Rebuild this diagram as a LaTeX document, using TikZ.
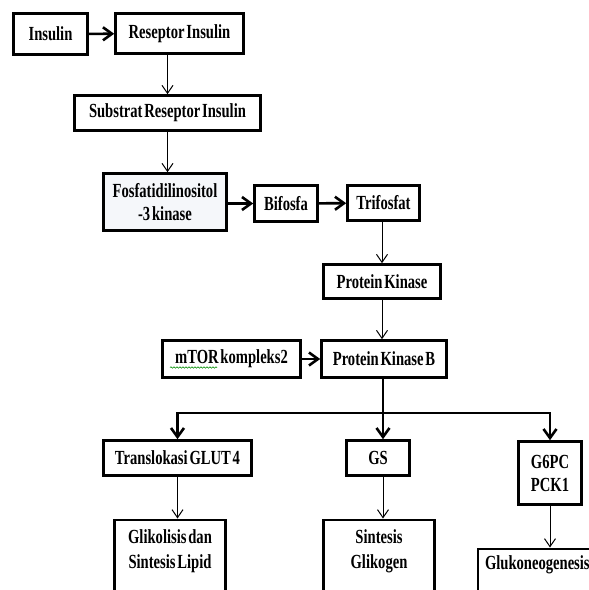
\documentclass[tikz,border=0pt]{standalone}
\usepackage{fontspec}
\setmainfont{Liberation Serif}[FakeStretch=0.73,WordSpace=0.5]
\usepackage{tikz}
\usetikzlibrary{arrows.meta,positioning,decorations.pathmorphing}
\tikzset{>={Straight Barb[length=8pt,width=11pt]}}
\definecolor{fosbg}{HTML}{F5F7FA}
\tikzset{
  box/.style={draw,line width=2.6pt,inner sep=0pt,align=center,font=\bfseries\fontsize{20}{23}\selectfont},
  txt/.style={inner sep=0pt,outer sep=0pt,align=center,font=\bfseries\fontsize{20}{25}\selectfont},
  flow/.style={->,line width=1pt},
  push/.style={line width=2.6pt,>={Straight Barb[length=9pt,width=13pt]}}
}

\begin{document}
\begin{tikzpicture}[x=1pt,y=-1pt]
\useasboundingbox (0,0) rectangle (589,590);
\clip (0,0) rectangle (589,590);
\node[box,minimum width=74pt,minimum height=41pt] (ins) at (50.5,34) {Insulin};
\node[box,minimum width=128pt,minimum height=40pt] (rsp) at (179.5,33.5) {Reseptor Insulin};
\node[box,minimum width=186pt,minimum height=35pt] (sub) at (167.5,113) {Substrat Reseptor Insulin};
\node[box,fill=fosbg,minimum width=123pt,minimum height=57pt] (fos) at (165,202) {Fosfatidilinositol\\-3 kinase};
\node[box,minimum width=63pt,minimum height=36pt] (bif) at (286,203.5) {Bifosfa};
\node[box,minimum width=72pt,minimum height=35pt] (tri) at (383.5,203) {Trifosfat};
\node[box,minimum width=117pt,minimum height=34pt] (pk) at (382,281.5) {Protein Kinase};
\node[box,minimum width=138pt,minimum height=37pt] (mtor) at (231.5,359) {mTOR kompleks2};
\node[box,minimum width=125pt,minimum height=37pt] (pkb) at (384,359) {Protein Kinase B};
\node[box,minimum width=148pt,minimum height=35pt] (trans) at (177.5,458) {Translokasi GLUT 4};
\node[box,minimum width=63pt,minimum height=35pt] (gs) at (378,458) {GS};
\node[box,minimum width=63pt,minimum height=63pt] (g6) at (550,473) {G6PC\\PCK1};
\node[box,anchor=north,minimum width=111pt,minimum height=110pt] (glik) at (170,518.5) {};
\node[box,anchor=north,minimum width=111pt,minimum height=110pt] (sint) at (379,518.5) {};
\node[box,anchor=north west,minimum width=140pt,minimum height=80pt] (gluk) at (476.5,547.5) {};
\node[txt,below=11pt of glik.north] (glikt) {Glikolisis dan\\Sintesis Lipid};
\node[txt,below=11pt of sint.north] (sintt) {Sintesis\\Glikogen};
\node[txt,anchor=west] (glukt) at ([xshift=8.5pt,yshift=-17.5pt]gluk.north west) {Glukoneogenesis};
\coordinate (fork) at (383,413);
\draw[push,->] (ins) -- (rsp);
\draw[flow] (rsp.south -| sub.north) -- (sub.north);
\draw[flow] (sub.south) -- (sub.south |- fos.north);
\draw[push,->] (fos.east |- bif) -- (bif.west);
\draw[push,->] (bif) -- (tri);
\draw[flow] (tri.south -| pk.north) -- (pk.north);
\draw[flow] (pk.south) -- (pk.south |- pkb.north);
\draw[push,->] (mtor) -- (pkb);
\draw[push,->] (pkb.south -| fork) -- (fork |- gs.north);
\draw[push,->] (fork) -| (trans.north);
\draw[push,->] (fork) -| (g6.north);
\draw[flow] (trans.south) -- (trans.south |- glik.north);
\draw[flow] (fork |- gs.south) -- (fork |- sint.north);
\draw[flow] (g6.south) -- (g6.south |- gluk.north);
\draw[decorate,decoration={snake,amplitude=0.7pt,segment length=3pt},green!55!black,line width=0.6pt] (170,367.5) -- (217,367.5);
\end{tikzpicture}
\end{document}
